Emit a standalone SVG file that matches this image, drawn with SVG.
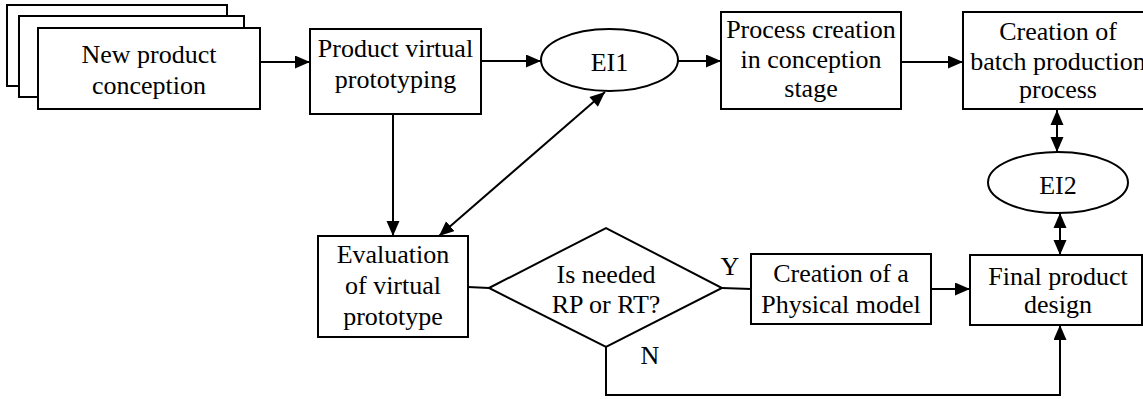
<svg xmlns="http://www.w3.org/2000/svg" width="1143" height="399" viewBox="0 0 1143 399">
<style>
.n{fill:#fff;stroke:#000;stroke-width:2}
.t{font-family:"Liberation Serif","Times New Roman",serif;font-size:26px;fill:#000;text-anchor:middle}
.c{fill:none;stroke:#000;stroke-width:2}
</style>
<defs>
<marker id="ah" markerUnits="userSpaceOnUse" markerWidth="16" markerHeight="14" refX="15" refY="6.5" orient="auto">
<path d="M0,0 L15,6.5 L0,13 Z" fill="#000"/>
</marker>
<marker id="as" markerUnits="userSpaceOnUse" markerWidth="16" markerHeight="14" refX="0" refY="6.5" orient="auto">
<path d="M15,0 L0,6.5 L15,13 Z" fill="#000"/>
</marker>
</defs>
<rect width="1143" height="399" fill="#fff"/>
<g id="connectors">
<line class="c" x1="260" y1="62" x2="310" y2="62" marker-end="url(#ah)"/>
<line class="c" x1="481" y1="61" x2="541" y2="61" marker-end="url(#ah)"/>
<line class="c" x1="678" y1="61" x2="721" y2="61" marker-end="url(#ah)"/>
<line class="c" x1="901" y1="62" x2="963" y2="62" marker-end="url(#ah)"/>
<line class="c" x1="1057" y1="110" x2="1057" y2="152" marker-start="url(#as)" marker-end="url(#ah)"/>
<line class="c" x1="1060" y1="213" x2="1060" y2="255" marker-start="url(#as)" marker-end="url(#ah)"/>
<line class="c" x1="393" y1="114" x2="393" y2="236" marker-end="url(#ah)"/>
<line class="c" x1="605" y1="92" x2="439" y2="236" marker-start="url(#as)" marker-end="url(#ah)"/>
<line class="c" x1="468" y1="287" x2="489" y2="288"/>
<line class="c" x1="722" y1="288" x2="751" y2="289"/>
<line class="c" x1="931" y1="289" x2="970" y2="289" marker-end="url(#ah)"/>
<polyline class="c" points="606,347 606,395 1060,395 1060,325" marker-end="url(#ah)"/>
<text class="t" x="730" y="275">Y</text>
<text class="t" x="650" y="364">N</text>
</g>
<g id="new-product-conception">
<rect class="n" x="7" y="5" width="220" height="81"/>
<rect class="n" x="19" y="16" width="225" height="81"/>
<rect class="n" x="38" y="28" width="222" height="81"/>
<text class="t" x="149" y="63">New product</text>
<text class="t" x="149" y="94">conception</text>
</g>
<g id="product-virtual-prototyping">
<rect class="n" x="310" y="29" width="171" height="85"/>
<text class="t" x="395.5" y="57">Product virtual</text>
<text class="t" x="395.5" y="88">prototyping</text>
</g>
<g id="ei1">
<ellipse class="n" cx="609.5" cy="60" rx="68.5" ry="31"/>
<text class="t" x="609.5" y="71">EI1</text>
</g>
<g id="process-creation">
<rect class="n" x="721" y="12" width="180" height="97"/>
<text class="t" x="811" y="38">Process creation</text>
<text class="t" x="811" y="68">in conception</text>
<text class="t" x="811" y="97">stage</text>
</g>
<g id="batch-production">
<rect class="n" x="963" y="12" width="190" height="97"/>
<text class="t" x="1058" y="40">Creation of</text>
<text class="t" x="1058" y="70">batch production</text>
<text class="t" x="1058" y="98">process</text>
</g>
<g id="ei2">
<ellipse class="n" cx="1058" cy="182.5" rx="70" ry="30.5"/>
<text class="t" x="1058" y="194">EI2</text>
</g>
<g id="evaluation">
<rect class="n" x="318" y="236" width="150" height="101"/>
<text class="t" x="393" y="263">Evaluation</text>
<text class="t" x="393" y="294">of virtual</text>
<text class="t" x="393" y="325">prototype</text>
</g>
<g id="decision">
<polygon class="n" points="489,288 606,228 722,288 606,347"/>
<text class="t" x="606" y="283">Is needed</text>
<text class="t" x="606" y="313">RP or RT?</text>
</g>
<g id="physical-model">
<rect class="n" x="751" y="254" width="180" height="70"/>
<text class="t" x="841" y="282">Creation of a</text>
<text class="t" x="841" y="313">Physical model</text>
</g>
<g id="final-product-design">
<rect class="n" x="970" y="255" width="172" height="70"/>
<text class="t" x="1058" y="285">Final product</text>
<text class="t" x="1058" y="313">design</text>
</g>
</svg>
